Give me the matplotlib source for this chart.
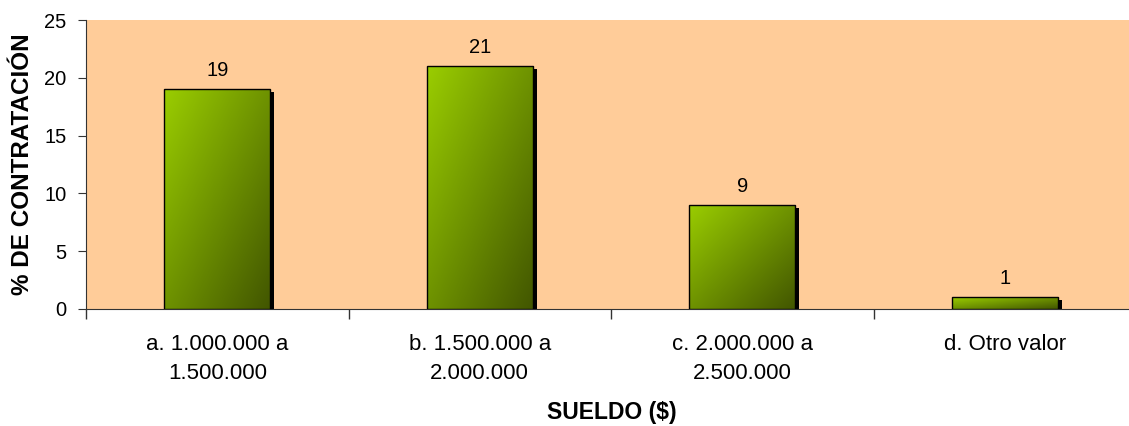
import matplotlib.pyplot as plt
import matplotlib.transforms as mtransforms
from matplotlib.colors import LinearSegmentedColormap
import numpy as np

categorias = ["a. 1.000.000 a\n1.500.000", "b. 1.500.000 a\n2.000.000",
              "c. 2.000.000 a\n2.500.000", "d. Otro valor"]
valores = [19, 21, 9, 1]

plt.rcParams['font.family'] = ['Liberation Sans', 'DejaVu Sans']

fig = plt.figure(figsize=(11.29, 4.26), dpi=100)
# the plot area runs slightly past the right edge, as in the original
ax = fig.add_axes([86 / 1129, 1 - 309 / 426, 1050 / 1129, 289 / 426])
ax.set_facecolor('#FFCC99')

x = np.arange(len(valores))
ancho = 0.404

# sombra
sombra = mtransforms.offset_copy(ax.transData, fig=fig, x=4, y=-3, units='dots')
ax.bar(x, valores, ancho, color='black', transform=sombra, zorder=2)

barras = ax.bar(x, valores, ancho, facecolor='none', edgecolor='black',
                linewidth=1.0, zorder=4)

cmap = LinearSegmentedColormap.from_list('verde', ['#9ACD00', '#6E9200', '#425600'])
gx, gy = np.meshgrid(np.linspace(0, 1, 100), np.linspace(0, 1, 100))
grad = (gx + gy) / 2
for b in barras:
    x0, w, h = b.get_x(), b.get_width(), b.get_height()
    im = ax.imshow(grad, cmap=cmap, extent=[x0, x0 + w, 0, h], origin='upper',
                   aspect='auto', zorder=3)
    im.set_clip_path(b)
    ax.text(x0 + w / 2, h + 0.8, str(int(h)), ha='center', va='bottom', fontsize=14.5)

ax.set_xlim(-0.5, len(valores) - 0.5)
ax.set_ylim(0, 25)
ax.set_yticks(np.arange(0, 26, 5))
ax.set_xticks(x)
ax.set_xticklabels(categorias, fontsize=16, linespacing=1.5)
ax.set_xticks(np.arange(-0.5, len(valores), 1), minor=True)
ax.tick_params(axis='x', which='major', length=0, pad=18)
ax.tick_params(axis='x', which='minor', length=7, width=1, color='#333333')
ax.tick_params(axis='y', length=6, labelsize=14.5, color='#333333', pad=8)
for s in ['top', 'right']:
    ax.spines[s].set_visible(False)
ax.spines['left'].set_color('#333333')
ax.spines['bottom'].set_color('#333333')

ax.set_ylabel('% DE CONTRATACIÓN', fontsize=17.5, fontweight='bold')
ax.yaxis.set_label_coords(-(86 - 23) / 1050, 0.5)
ax.yaxis.label.set_va('center')
ax.set_xlabel('SUELDO ($)', fontsize=16.5, fontweight='bold')
ax.xaxis.set_label_coords((612 - 86) / 1050, -(412 - 309) / 289)
ax.xaxis.label.set_va('center')

fig.savefig('out.png', dpi=100)
